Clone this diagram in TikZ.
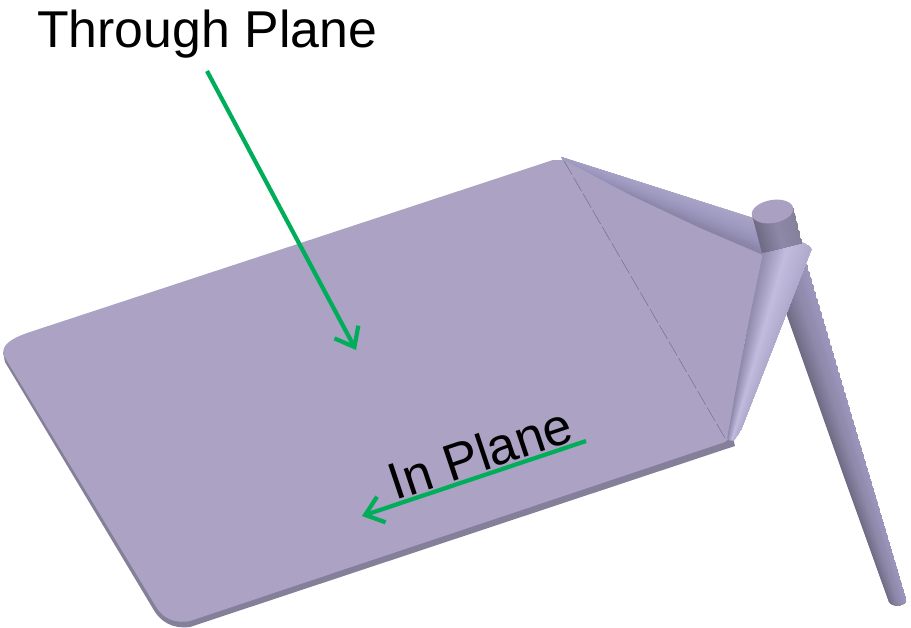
\documentclass[tikz,border=0pt]{standalone}
\usepackage{fontspec}
\setmainfont{Liberation Sans}
\usetikzlibrary{arrows.meta,calc}
\definecolor{plate}{HTML}{ABA2C4}
\definecolor{plateedge}{HTML}{85809A}
\definecolor{gusset}{HTML}{A9A0C2}
\definecolor{arrowgreen}{HTML}{00AE5A}
\definecolor{tubedark}{HTML}{6F6B84}
\definecolor{tubemid}{HTML}{8E89A9}
\definecolor{tubelite}{HTML}{9C97BE}
\definecolor{conedark}{HTML}{8D87A9}
\definecolor{conelite}{HTML}{C2BDDE}
\definecolor{conemid}{HTML}{B0A9CD}
\definecolor{rimlite}{HTML}{B0AACA}
\definecolor{rimlow}{HTML}{7F7A98}
\tikzset{
  greenarrow/.style={draw=arrowgreen,line width=4.2pt,-{Straight Barb[length=17pt,width=27pt,line width=4.2pt]}},
  bigtext/.style={font=\fontsize{51.8pt}{56pt}\selectfont,text=black,inner sep=0pt}
}
% stacked strips between edge A-B and edge C-D; colours c1 -> c2 -> c3 across the tube
\newcommand{\tubefill}[7]{%
  \foreach \stripi in {0,...,31}{%
    \pgfmathsetmacro\stript{\stripi/32}%
    \pgfmathsetmacro\stripp{\stript<0.5 ? 200*\stript : 200*\stript-100}%
    \ifdim\stript pt<0.5pt \def\stripc{#6!\stripp!#5}\else \def\stripc{#7!\stripp!#6}\fi
    \fill[color=\stripc] ($#1!\stript!#3$) -- ($#2!\stript!#4$) -- #4 -- #3 -- cycle;
  }%
}
\begin{document}
\begin{tikzpicture}[x=1pt,y=-1pt]
\useasboundingbox (0,0) rectangle (911,627);
% plate thickness
\fill[plateedge] (3,352) -- (5,362) -- (152,607) .. controls (160,622) and (172,629) .. (190,627) -- (735,446) -- (733,438) -- (400,500) -- cycle;
% plate top surface
\fill[plate] (553,160) -- (30,332) .. controls (12,338) and (0,345) .. (4,356)
  -- (155,605) .. controls (162,618) and (174,624) .. (190,621) -- (725,442) -- (732,436) -- (564,160) -- cycle;
% tube along upper gusset edge
\begin{scope}
  \clip (561,157) -- (753,218) -- (766,258) -- (571,170) -- cycle;
  \tubefill{(561,150)}{(753,211)}{(563,172)}{(764,262)}{rimlite}{tubelite}{rimlow}
\end{scope}
% gusset
\fill[gusset] (564,160) -- (630,195) -- (700,228) -- (763,255) -- (745,340) -- (728,438) -- cycle;
% lower rod
\begin{scope}
  \clip (806,262) -- (906,598) .. controls (908,606) and (893,608) .. (889,602) -- (786,316) -- cycle;
  \tubefill{(768,262)}{(891,610)}{(806,262)}{(909,610)}{tubedark}{tubemid}{tubelite}
\end{scope}
% cone
\begin{scope}
  \clip (763,254) .. controls (775,243) and (795,235) .. (803,243) .. controls (812,246) and (816,255) .. (811,262)
  -- (806,272) -- (788,318) -- (743,427) -- (732,443) -- (727,438) -- (745,340) -- cycle;
  \tubefill{(762,240)}{(727,440)}{(815,240)}{(737,440)}{conedark}{conelite}{conemid}
\end{scope}
% cylinder
\begin{scope}
  \clip (752,215) -- (762,253) .. controls (775,252) and (795,250) .. (802,243) -- (793,208) -- cycle;
  \tubefill{(752,215)}{(762,253)}{(793,205)}{(802,243)}{tubedark}{tubemid}{plateedge}
\end{scope}
% cylinder top
\fill[gusset,rotate around={10:(772.5,211.5)}] (772.5,211.5) ellipse [x radius=21,y radius=11.5];
% fold line
\draw[tubedark!80!gusset,line width=0.6pt,dash pattern=on 16pt off 3pt] (564,161) -- (725,438);
% labels and arrows
\node[bigtext,anchor=base west] (through) at (37,47) {Through Plane};
\node[bigtext,rotate=18.5] (inplane) at (480,453) {In Plane};
\coordinate (a1) at (207,71);
\coordinate (a2) at (356,350);
\coordinate (b1) at (586,441);
\coordinate (b2) at (362,516);
\draw[greenarrow] (a1) -- (a2);
\draw[greenarrow] (b1) -- (b2);
\end{tikzpicture}
\end{document}
